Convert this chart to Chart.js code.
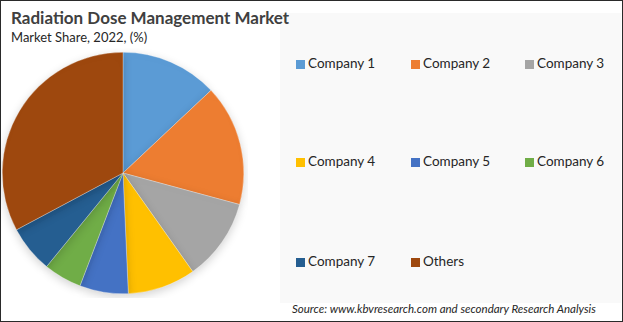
<!DOCTYPE html>
<html>
<head>
<meta charset="utf-8">
<script src="https://cdn.jsdelivr.net/npm/chart.js@4.4.1/dist/chart.umd.min.js"></script>
<style>
  html, body { margin: 0; padding: 0; }
  body { width: 623px; height: 322px; overflow: hidden; background: #fff; font-family: Lato, "Open Sans", sans-serif; }
  #frame { position: absolute; left: 0; top: 0; width: 621px; height: 320px; border: 1px solid #2a2a2a; background: #fff; }
  #legendBg { position: absolute; left: 280px; top: 13px; width: 341px; height: 290px; background: #f9f9f9; }
  #title { position: absolute; left: 11px; top: 7px; font-size: 17px; font-weight: bold; color: #404040; }
  #subtitle { position: absolute; left: 11px; top: 29px; font-size: 13px; color: #262626; }
  #pie { position: absolute; left: -2px; top: 48px; }
  .item { position: absolute; font-size: 13.5px; color: #262626; white-space: nowrap; }
  .item span.box { display: inline-block; width: 9px; height: 9px; margin-right: 3px; vertical-align: -1px; }
  #source { position: absolute; left: 292px; top: 302px; font-size: 11.5px; font-style: italic; color: #262626; }
</style>
</head>
<body>
<div id="frame"></div>
<div id="legendBg"></div>
<div id="title">Radiation Dose Management Market</div>
<div id="subtitle">Market Share, 2022, (%)</div>
<canvas id="pie" width="250" height="250"></canvas>
<div id="legend"></div>
<div id="source">Source: www.kbvresearch.com and secondary Research Analysis</div>
<script>
  // market share values (clockwise from top)
  var labels = ['Company 1', 'Company 2', 'Company 3', 'Company 4', 'Company 5', 'Company 6', 'Company 7', 'Others'];
  var shares = [13.0, 16.2, 11.0, 9.1, 6.5, 5.1, 6.3, 32.8];
  var colors = ['#5B9BD5', '#ED7D31', '#A5A5A5', '#FFC000', '#4472C4', '#70AD47', '#255E91', '#9E480E'];

  // legend grid, 3 columns
  var legend = document.getElementById('legend');
  var colX = [296, 411, 525];
  var rowY = [55, 153, 253];
  for (let i = 0; i < labels.length; i++) {
    let d = document.createElement('div');
    d.className = 'item';
    d.style.left = colX[i % 3] + 'px';
    d.style.top = rowY[Math.floor(i / 3)] + 'px';
    d.innerHTML = '<span class="box" style="background:' + colors[i] + '"></span>' + labels[i];
    legend.appendChild(d);
  }

  // soft shadow under the pie
  const shadowPlugin = {
    id: 'shadow',
    beforeDatasetsDraw(chart) {
      const ctx = chart.ctx;
      ctx.save();
      ctx.shadowColor = 'rgba(0,0,0,0.18)';
      ctx.shadowBlur = 10;
      ctx.shadowOffsetY = 3;
    },
    afterDatasetsDraw(chart) {
      chart.ctx.restore();
    }
  };

  const ctx = document.getElementById('pie').getContext('2d');
  new Chart(ctx, {
    type: 'pie',
    data: {
      labels: labels,
      datasets: [{
        data: shares,
        backgroundColor: colors,
        borderColor: 'rgba(255,255,255,0.6)',
        borderWidth: 0.5
      }]
    },
    options: {
      responsive: false,
      animation: false,
      layout: { padding: 4 },
      plugins: {
        legend: { display: false },
        tooltip: { enabled: false }
      }
    },
    plugins: [shadowPlugin]
  });
</script>
</body>
</html>
